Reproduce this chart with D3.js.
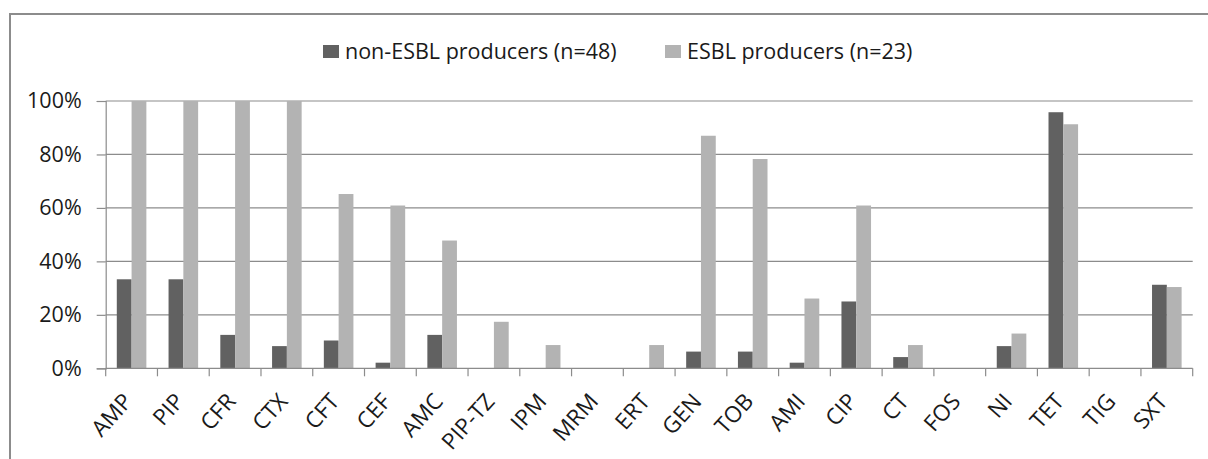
<!DOCTYPE html>
<html>
<head>
<meta charset="utf-8">
<script src="https://cdn.jsdelivr.net/npm/d3@7"></script>
<style>
  body { margin: 0; background: #fff; }
  svg text { font-family: "Open Sans", sans-serif; fill: #1a1a1a; }
</style>
</head>
<body>
<svg id="chart" width="1208" height="459"></svg>
<script>
// categories and values (% resistant)
var drugs = ["AMP", "PIP", "CFR", "CTX", "CFT", "CEF", "AMC", "PIP-TZ", "IPM", "MRM", "ERT",
    "GEN", "TOB", "AMI", "CIP", "CT", "FOS", "NI", "TET", "TIG", "SXT"];
var nonEsbl = [33.3, 33.3, 12.5, 8.3, 10.4, 2.1, 12.5, 0, 0, 0, 0,
    6.25, 6.25, 2.1, 25, 4.2, 0, 8.3, 95.8, 0, 31.25];
var esbl = [100, 100, 100, 100, 65.2, 60.9, 47.8, 17.4, 8.7, 0, 8.7,
    87.0, 78.3, 26.1, 60.9, 8.7, 0, 13.0, 91.3, 0, 30.4];
var seriesNames = ["non-ESBL producers (n=48)", "ESBL producers (n=23)"];
var yTicks = [0, 20, 40, 60, 80, 100];

var colors = ["#616161", "#b3b3b3"];
var gridColor = "#8c8c8c";

var svg = d3.select("#chart");

// outer frame
svg.append("rect")
    .attr("x", 10).attr("y", 14)
    .attr("width", 1300).attr("height", 600)
    .attr("fill", "none")
    .attr("stroke", gridColor)
    .attr("stroke-width", 2);

var plotLeft = 105.7, plotRight = 1192.7, plotTop = 101, plotBottom = 368.3;

var x = d3.scaleBand().domain(drugs).range([plotLeft, plotRight]).paddingInner(0).paddingOuter(0);
var xSub = d3.scaleBand().domain([0, 1]).range([0, x.bandwidth()]).paddingInner(0).paddingOuter(0.75);
var y = d3.scaleLinear().domain([0, 100]).range([plotBottom, plotTop]);

// gridlines
svg.append("g")
    .selectAll("line")
    .data(yTicks.filter(d => d > 0))
    .join("line")
    .attr("x1", plotLeft).attr("x2", plotRight)
    .attr("y1", d => y(d)).attr("y2", d => y(d))
    .attr("stroke", gridColor)
    .attr("stroke-width", 1.2);

// y axis
var yAxis = svg.append("g")
    .attr("transform", "translate(" + plotLeft + ",0)")
    .call(d3.axisLeft(y).tickValues(yTicks).tickFormat(d => d + "%").tickSize(9).tickPadding(15));
yAxis.select(".domain").attr("stroke", gridColor).attr("stroke-width", 1.2);
yAxis.selectAll(".tick line").attr("stroke", gridColor).attr("stroke-width", 1.2);
yAxis.selectAll(".tick text").attr("font-size", 21.5).attr("fill", "#1a1a1a").attr("font-family", "Open Sans");

// bars
var rows = drugs.map((d, i) => ({ drug: d, vals: [nonEsbl[i], esbl[i]] }));
svg.append("g")
    .selectAll("g")
    .data(rows)
    .join("g")
    .attr("transform", d => "translate(" + x(d.drug) + ",0)")
    .selectAll("rect")
    .data(d => d.vals.map((v, k) => ({ k: k, v: v })))
    .join("rect")
    .attr("x", d => xSub(d.k))
    .attr("width", xSub.bandwidth())
    .attr("y", d => y(d.v))
    .attr("height", d => plotBottom - y(d.v))
    .attr("fill", d => colors[d.k]);

// x axis line and ticks at category boundaries
svg.append("line")
    .attr("x1", plotLeft).attr("x2", plotRight)
    .attr("y1", plotBottom).attr("y2", plotBottom)
    .attr("stroke", gridColor).attr("stroke-width", 1.2);
var bounds = drugs.map(d => x(d)).concat([x.range()[1]]);
svg.append("g")
    .selectAll("line")
    .data(bounds)
    .join("line")
    .attr("x1", d => d).attr("x2", d => d)
    .attr("y1", plotBottom).attr("y2", plotBottom + 8)
    .attr("stroke", gridColor).attr("stroke-width", 1.2);

// x labels rotated
svg.append("g")
    .selectAll("text")
    .data(drugs)
    .join("text")
    .attr("transform", d => "translate(" + (x(d) + x.bandwidth() / 2 + 2) + "," + (plotBottom + 34) + ") rotate(-48)")
    .attr("text-anchor", "end")
    .attr("font-size", 22.5)
    .text(d => d);

// legend
var legendX = [323, 665];
var legend = svg.append("g")
    .selectAll("g")
    .data(seriesNames)
    .join("g")
    .attr("transform", (d, i) => "translate(" + legendX[i] + ",0)");
legend.append("rect")
    .attr("x", 0).attr("y", 45)
    .attr("width", 16).attr("height", 13)
    .attr("fill", (d, i) => colors[i]);
legend.append("text")
    .attr("x", 22).attr("y", 58.5)
    .attr("font-size", 21.5)
    .text(d => d);
</script>
</body>
</html>
